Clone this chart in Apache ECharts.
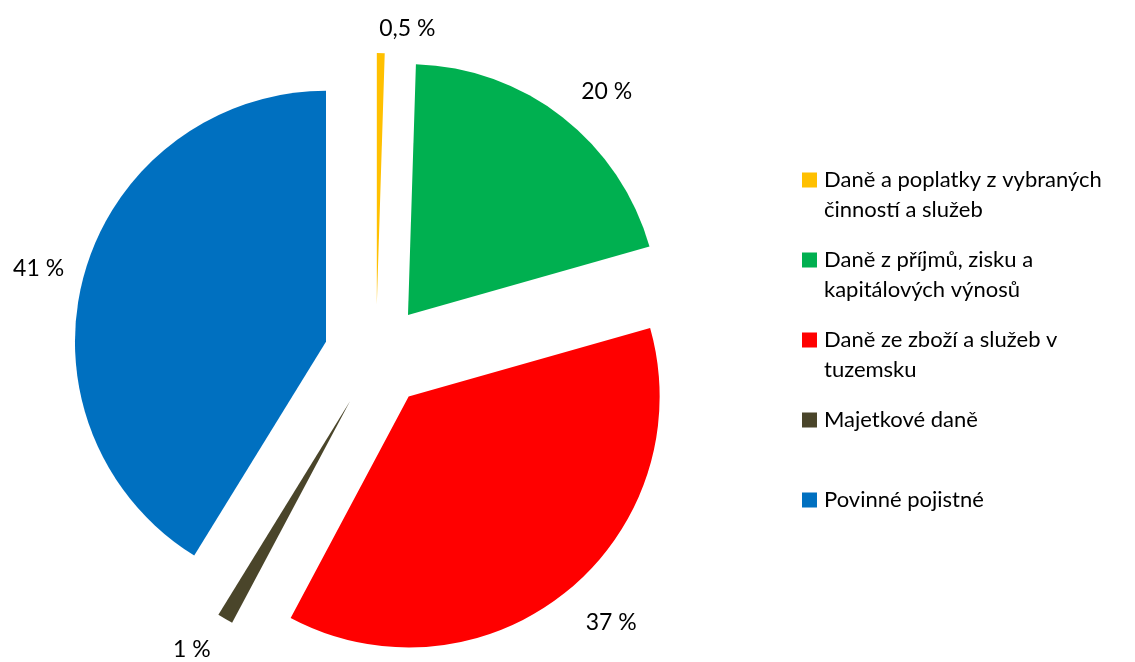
<!DOCTYPE html>
<html><head><meta charset="utf-8">
<script src="https://cdn.jsdelivr.net/npm/echarts@6/dist/echarts.min.js"></script>
<style>html,body{margin:0;padding:0;background:#fff}#c{width:1135px;height:662px}</style>
</head><body><div id="c"></div>
<script>
const categories = ['Daně a poplatky z vybraných činností a služeb', 'Daně z příjmů, zisku a kapitálových výnosů', 'Daně ze zboží a služeb v tuzemsku', 'Majetkové daně', 'Povinné pojistné'];
const values = [0.5, 20, 37, 1, 41];
const legendTexts = ['Daně a poplatky z vybraných\nčinností a služeb', 'Daně z příjmů, zisku a\nkapitálových výnosů', 'Daně ze zboží a služeb v\ntuzemsku', 'Majetkové daně\n\u00a0', 'Povinné pojistné\n\u00a0'];

const colors = ['#FFC000', '#00B050', '#FF0000', '#4A452A', '#0070C0'];
const labelLineLengths = [24, 32, 39, 35, 16];
const labelLineLengths2 = [-7, -6, -10, -8, 0];

const chart = echarts.init(document.getElementById('c'), null, {renderer: 'canvas'});
chart.setOption({
  animation: false,
  backgroundColor: '#fff',
  legend: {
    orient: 'vertical', left: 802, top: 165, padding: 0, itemGap: 20,
    itemWidth: 17, itemHeight: 45,
    icon: 'path://M0,0H15V15H0Z M17,45H17.01',
    itemStyle: {borderWidth: 0},
    selectedMode: false,
    textStyle: {fontFamily: 'Lato', fontSize: 22, lineHeight: 30, color: '#000'},
    formatter: function (name) { return legendTexts[categories.indexOf(name)]; },
    data: categories
  },
  series: [{
    type: 'pie',
    center: [376, 356],
    radius: [0, 251],
    startAngle: 90,
    clockwise: true,
    selectedMode: 'multiple',
    selectedOffset: 52,
    avoidLabelOverlap: false,
    emphasis: {disabled: true, scale: false},
    itemStyle: {borderWidth: 0},
    select: {itemStyle: {borderWidth: 0}},
    label: {
      show: true, position: 'outside', fontFamily: 'Lato', fontSize: 23, color: '#000',
      formatter: function (p) { return String(p.value).replace('.', ',') + ' %'; }
    },
    labelLine: {show: false, length: 30, length2: 0},
    data: categories.map(function (n, i) {
      return {
        name: n, value: values[i], selected: true,
        itemStyle: {color: colors[i]},
        labelLine: {show: false, length: labelLineLengths[i], length2: labelLineLengths2[i]}
      };
    })
  }]
});
</script>
</body></html>
